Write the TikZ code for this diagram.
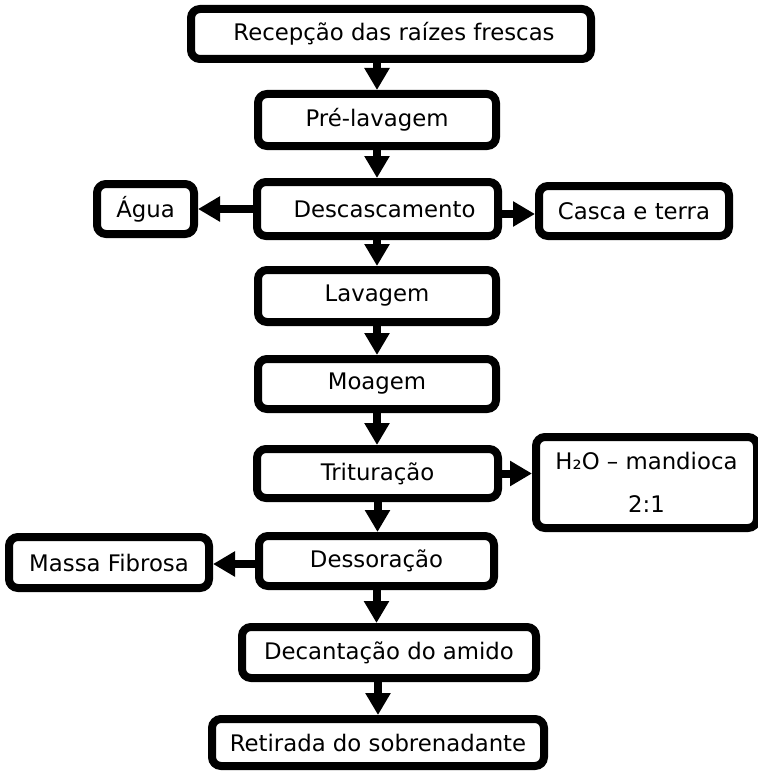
\documentclass[tikz,border=0pt]{standalone}
\usepackage{fontspec}
\setmainfont{DejaVu Sans}
\usetikzlibrary{arrows.meta}
\begin{document}
\begin{tikzpicture}[x=1pt,y=-1pt,
  box/.style={draw=black, line width=8pt, rounded corners=9pt, fill=white,
    inner sep=0pt, font=\fontsize{22.8}{43}\selectfont, text=black},
  arr/.style={draw=black, line width=8pt, -{Triangle[width=24pt,length=22pt]}}]
\fill[white] (0,0) rectangle (757,773);
\useasboundingbox (0,0) rectangle (757,773);

\node[box, minimum width=400pt, minimum height=50pt] (rec) at (391,34) {\hspace{6pt}Recepção das raízes frescas};
\node[box, minimum width=238pt, minimum height=52pt] (pre) at (377,120) {Pré-lavagem};
\node[box, minimum width=241pt, minimum height=54pt] (desc) at (377.5,209) {\hspace{14pt}Descascamento};
\node[box, minimum width=97pt, minimum height=50pt] (agua) at (145.5,209) {Água};
\node[box, minimum width=190pt, minimum height=50pt] (casca) at (634,211) {Casca e terra};
\node[box, minimum width=238pt, minimum height=52pt] (lav) at (377,296) {Lavagem};
\node[box, minimum width=238pt, minimum height=50pt] (moa) at (377,384) {Moagem};
\node[box, minimum width=241pt, minimum height=49pt] (trit) at (377.5,473.5) {Trituração};
\node[box, minimum width=221pt, minimum height=91pt, align=center] (h2o) at (646.5,482.5) {H₂O – mandioca\\2:1};
\node[box, minimum width=235pt, minimum height=50pt] (dess) at (376.5,561) {Dessoração};
\node[box, minimum width=200pt, minimum height=51pt] (massa) at (109,562.5) {Massa Fibrosa};
\node[box, minimum width=294pt, minimum height=51pt] (dec) at (389,652.5) {Decantação do amido};
\node[box, minimum width=332pt, minimum height=47pt] (ret) at (378,742.5) {Retirada do sobrenadante};

\draw[arr] (pre.north |- rec.south) -- (pre.north);
\draw[arr] (pre.south) -- (pre.south |- desc.north);
\draw[arr] (desc.south) -- (desc.south -| lav.north) -- (lav.north);
\draw[arr] (lav.south) -- (moa.north);
\draw[arr] (moa.south) -- (moa.south |- trit.north);
\draw[arr] (trit.south) -- (trit.south |- dess.north);
\draw[arr] (dess.south) -- (dess.south |- dec.north);
\draw[arr] (ret.north |- dec.south) -- (ret.north);
\draw[arr] (desc.west) -- (desc.west -| agua.east);
\draw[arr] ([yshift=-5pt]desc.east) -- ([yshift=-5pt]desc.east -| casca.west);
\draw[arr] (trit.east) -- (trit.east -| h2o.west);
\draw[arr] ([yshift=-3pt]dess.west) -- ([yshift=-3pt]dess.west -| massa.east);
\end{tikzpicture}
\end{document}
